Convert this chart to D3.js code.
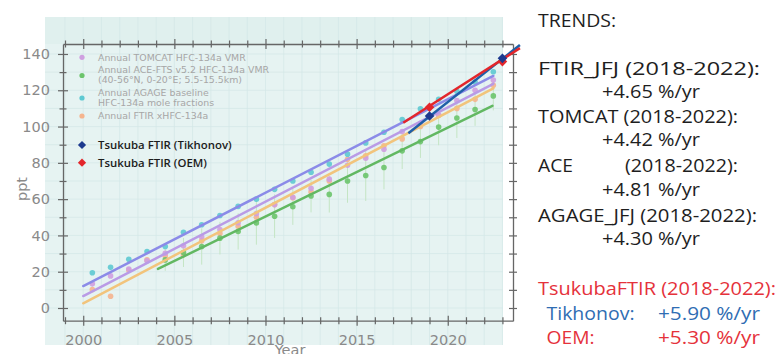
<!DOCTYPE html>
<html><head><meta charset="utf-8">
<script src="https://cdn.jsdelivr.net/npm/d3@7"></script>
<style>body{margin:0;background:#fff;} svg{display:block;}</style>
</head><body>
<svg id="c" width="775" height="354"></svg>
<script>
// ---------------- DATA ----------------
const midYears = [2000.5,2001.5,2002.5,2003.5,2004.5,2005.5,2006.5,2007.5,2008.5,2009.5,2010.5,2011.5,2012.5,2013.5,2014.5,2015.5,2016.5,2017.5,2018.5,2019.5,2020.5,2021.5,2022.5];
const agage  = [19.4,22.4,26.9,31.1,33.9,41.7,45.9,51.0,56.0,60.0,65.4,70.0,74.8,79.3,84.8,91.0,96.9,103.9,109.8,115.0,119.5,124.5,130.2];
const tomcat = [13.3,17.7,21.5,26.0,30.2,34.3,39.1,43.2,47.0,52.0,57.0,61.0,66.0,71.0,78.7,82.5,87.5,97.3,101.8,106.5,114.4,120.0,125.6];
const ftir   = [10.2,6.5,20.9,26.5,28.7,29.3,37.0,41.0,45.0,50.0,57.0,60.8,64.0,70.0,82.0,83.9,89.4,93.2,100.0,106.1,110.0,115.0,122.8];
const aceYears = [2004.5,2005.5,2006.5,2007.5,2008.5,2009.5,2010.5,2011.5,2012.5,2013.5,2014.5,2015.5,2016.5,2017.5,2018.5,2019.5,2020.5,2021.5,2022.5];
const ace    = [26.5,30.6,33.9,38.5,42.2,46.9,50.6,55.8,61.7,62.6,70.0,73.0,77.4,86.6,91.7,99.7,104.7,109.4,116.9];
const aceErr = [6,8,10,9,10,12,12,10,9,10,12,14,12,10,9,10,11,9,8];

// fitted trend lines: start/end year and value
const fitNames = ["top","tomcat","ftir","ace"];
const fitStartYear = [2000, 2000, 2000, 2004.1];
const fitStartVal  = [12.1, 6.6, 2.6, 21.5];
const fitEndYear   = [2022.5, 2022.5, 2022.5, 2022.45];
const fitEndVal    = [127.9, 123.5, 121.1, 111.4];

const tsukubaYears = [2019, 2023];
const tikhonov = [105.8, 137.6];
const oem      = [110.6, 135.8];
const tikhonovTrendYears = [2017.84, 2023.96];
const tikhonovTrendVals  = [96.3, 145.0];
const oemTrendYears = [2017.56, 2023.96];
const oemTrendVals  = [102.1, 143.2];

const yMajor = [0,20,40,60,80,100,120,140];
const yMinor = [10,30,50,70,90,110,130];
const xMajor = [2000,2005,2010,2015,2020];
const xMinor = [1999,2001,2002,2003,2004,2006,2007,2008,2009,2011,2012,2013,2014,2016,2017,2018,2019,2021,2022,2023];

const legendItems = [
  {lines:["Annual TOMCAT HFC-134a VMR"], key:"tomcat"},
  {lines:["Annual ACE-FTS v5.2 HFC-134a VMR","(40-56°N, 0-20°E; 5.5-15.5km)"], key:"ace"},
  {lines:["Annual AGAGE baseline","HFC-134a mole fractions"], key:"agage"},
  {lines:["Annual FTIR xHFC-134a"], key:"ftir"}
];
const trendLabels = ["TRENDS:","FTIR_JFJ (2018-2022):","+4.65 %/yr","TOMCAT (2018-2022):","+4.42 %/yr","ACE","(2018-2022):","+4.81 %/yr","AGAGE_JFJ (2018-2022):","+4.30 %/yr"];
const tsukubaLabels = ["TsukubaFTIR (2018-2022):","Tikhonov:","+5.90 %/yr","OEM:","+5.30 %/yr"];

// ---------------- STYLE ----------------
const col = {
  agage:"#5ec9d2", tomcat:"#cf9fe0", ftir:"#f5b48e", ace:"#6cc46c",
  fit:{top:"#8b8be8", tomcat:"#b99be6", ftir:"#f2c47c", ace:"#62b862"},
  tik:"#1d3a8f", tikLine:"#1f5fa8", oem:"#e3262b"
};

const svg = d3.select("#c");
const x = d3.scaleLinear().domain([1998.89, 2023.58]).range([63, 513]);
const y = d3.scaleLinear().domain([-7.0, 145.5]).range([320.7, 44]);

// panel background
svg.append("rect").attr("x",45).attr("y",17).attr("width",458).attr("height",328).attr("fill","#e6f3f2");
svg.append("rect").attr("x",45).attr("y",17).attr("width",458).attr("height",27).attr("fill","#e0f0ee");

// grid
const grid = svg.append("g").attr("stroke","#d3e7e6").attr("stroke-width",0.7);
xMajor.concat(xMinor).forEach(v=>{ if (x(v) > 45 && x(v) < 503) grid.append("line").attr("x1",x(v)).attr("x2",x(v)).attr("y1",17).attr("y2",345); });
yMajor.concat(yMinor).forEach(v=>{ grid.append("line").attr("x1",45).attr("x2",503).attr("y1",y(v)).attr("y2",y(v)); });

// axes
const axCol = "#666";
function styleAxis(g){ g.select(".domain").attr("stroke",axCol).attr("stroke-width",1.3);
  g.selectAll(".tick line").attr("stroke",axCol).attr("stroke-width",1.2);
  g.selectAll("text").attr("fill","#8a8a8a").attr("font-family","DejaVu Sans").attr("font-size","14.5px"); }
function cross(g, horiz, len){ g.selectAll(".tick line").attr(horiz?"y1":"x1",-len).attr(horiz?"y2":"x2",len); }

const gB = svg.append("g").attr("transform","translate(0,320.7)")
  .call(d3.axisBottom(x).tickValues(xMajor).tickFormat(d3.format("d")).tickSizeOuter(0).tickPadding(8));
styleAxis(gB); cross(gB,true,5);
const gB2 = svg.append("g").attr("transform","translate(0,320.7)")
  .call(d3.axisBottom(x).tickValues(xMinor).tickFormat("").tickSizeOuter(0));
styleAxis(gB2); cross(gB2,true,3.5); gB2.select(".domain").remove();

const gT = svg.append("g").attr("transform","translate(0,44)")
  .call(d3.axisTop(x).tickValues(xMajor).tickFormat("").tickSizeOuter(0));
styleAxis(gT); cross(gT,true,5);
const gT2 = svg.append("g").attr("transform","translate(0,44)")
  .call(d3.axisTop(x).tickValues(xMinor).tickFormat("").tickSizeOuter(0));
styleAxis(gT2); cross(gT2,true,3.5); gT2.select(".domain").remove();

const gL = svg.append("g").attr("transform","translate(63,0)")
  .call(d3.axisLeft(y).tickValues(yMajor).tickSizeOuter(0).tickPadding(7));
styleAxis(gL); cross(gL,false,5);
const gL2 = svg.append("g").attr("transform","translate(63,0)")
  .call(d3.axisLeft(y).tickValues(yMinor).tickFormat("").tickSizeOuter(0));
styleAxis(gL2); cross(gL2,false,3.5); gL2.select(".domain").remove();

const gR = svg.append("g").attr("transform","translate(513,0)")
  .call(d3.axisRight(y).tickValues(yMajor.concat(yMinor)).tickFormat("").tickSizeOuter(0));
styleAxis(gR); cross(gR,false,4);

// axis titles
svg.append("text").attr("transform","translate(27,189) rotate(-90)").attr("text-anchor","middle")
  .attr("font-family","DejaVu Sans").attr("font-size","14.5px").attr("fill","#8a8a8a").text("ppt");
svg.append("text").attr("x",290).attr("y",355).attr("text-anchor","middle")
  .attr("font-family","DejaVu Sans").attr("font-size","14.5px").attr("fill","#8a8a8a").text("Year");

// error bars (ACE)
const plot = svg.append("g");
plot.append("g").selectAll("line").data(aceYears).join("line")
  .attr("x1",d=>x(d)).attr("x2",d=>x(d))
  .attr("y1",(d,i)=>y(ace[i]-aceErr[i])).attr("y2",(d,i)=>y(ace[i]+aceErr[i]))
  .attr("stroke","#c4e5c4").attr("stroke-width",1);

// points
function pts(xs, vs, c){
  plot.append("g").selectAll("circle").data(vs).join("circle")
    .attr("cx",(d,i)=>x(xs[i])).attr("cy",d=>y(d)).attr("r",2.8).attr("fill",c).attr("opacity",0.9);
}
pts(midYears, ftir, col.ftir);
pts(midYears, tomcat, col.tomcat);
pts(aceYears, ace, col.ace);
pts(midYears, agage, col.agage);

// fit lines
fitNames.forEach((n,i)=>{
  plot.append("line").attr("x1",x(fitStartYear[i])).attr("y1",y(fitStartVal[i]))
    .attr("x2",x(fitEndYear[i])).attr("y2",y(fitEndVal[i]))
    .attr("stroke",col.fit[n]).attr("stroke-width",2.5).attr("stroke-linecap","round");
});

// Tsukuba trends
const line = d3.line().x(d=>x(d[0])).y(d=>y(d[1]));
plot.append("path").attr("d",line(tikhonovTrendYears.map((d,i)=>[d,tikhonovTrendVals[i]])))
  .attr("stroke",col.tikLine).attr("stroke-width",2.5).attr("fill","none");
plot.append("path").attr("d",line(oemTrendYears.map((d,i)=>[d,oemTrendVals[i]])))
  .attr("stroke",col.oem).attr("stroke-width",2.5).attr("fill","none");

const dia = d3.symbol().type(d3.symbolSquare).size(46);
function diamonds(vals, c){
  plot.append("g").selectAll("path").data(vals).join("path")
    .attr("d",dia).attr("transform",(d,i)=>`translate(${x(tsukubaYears[i])},${y(d)}) rotate(45)`).attr("fill",c);
}
diamonds(oem, col.oem);
diamonds(tikhonov, col.tik);

// legend
const lg = svg.append("g");
const legY = [[57.3],[70,80],[92.7,102.7],[116]];
const legMarkY = [57.3,75.5,98,116];
legendItems.forEach((it,i)=>{
  lg.append("circle").attr("cx",82).attr("cy",legMarkY[i]).attr("r",2.6).attr("fill",col[it.key]);
  it.lines.forEach((l,j)=>{
    lg.append("text").attr("x",98).attr("y",legY[i][j]).attr("dy","0.35em")
      .attr("font-family","DejaVu Sans").attr("font-size","9.4px").attr("fill","#a6a6a6").text(l);
  });
});
[["Tsukuba FTIR (Tikhonov)", col.tik, 145],["Tsukuba FTIR (OEM)", col.oem, 162.7]].forEach(([t,c,yy])=>{
  lg.append("path").attr("d",d3.symbol().type(d3.symbolSquare).size(34)).attr("transform",`translate(82,${yy}) rotate(45)`).attr("fill",c);
  lg.append("text").attr("x",98).attr("y",yy).attr("dy","0.35em").attr("font-family","Open Sans")
    .attr("font-weight",600).attr("font-size","11.4px").attr("fill","#1c1c1c").text(t);
});

// right text block: [x, baseline, width] layout per label
const tg = svg.append("g").attr("font-family","Open Sans").attr("font-size","18px");
const trendLayout = [[538,27,78],[538,75,222],[602,97.5,98],[538,122.5,200],[602,146,98],[538,171.5,35],[625,171.5,113],[602,196,98],[538,221.5,219],[602,245,98]];
const tsukLayout = [[538,295,238],[546.5,320,88],[658,320,102],[546.5,343.5,48],[658,343.5,102]];
const dark = "#1e1e1e", red = "#e5323b", blue = "#2f6db3";
const tsukColors = [red, blue, blue, red, red];
function rt(str, L, fill){
  tg.append("text").attr("x",L[0]).attr("y",L[1]).attr("textLength",L[2]).attr("lengthAdjust","spacingAndGlyphs")
    .attr("fill",fill).text(str);
}
trendLabels.forEach((s,i)=>rt(s, trendLayout[i], dark));
tsukubaLabels.forEach((s,i)=>rt(s, tsukLayout[i], tsukColors[i]));
</script>
</body></html>
